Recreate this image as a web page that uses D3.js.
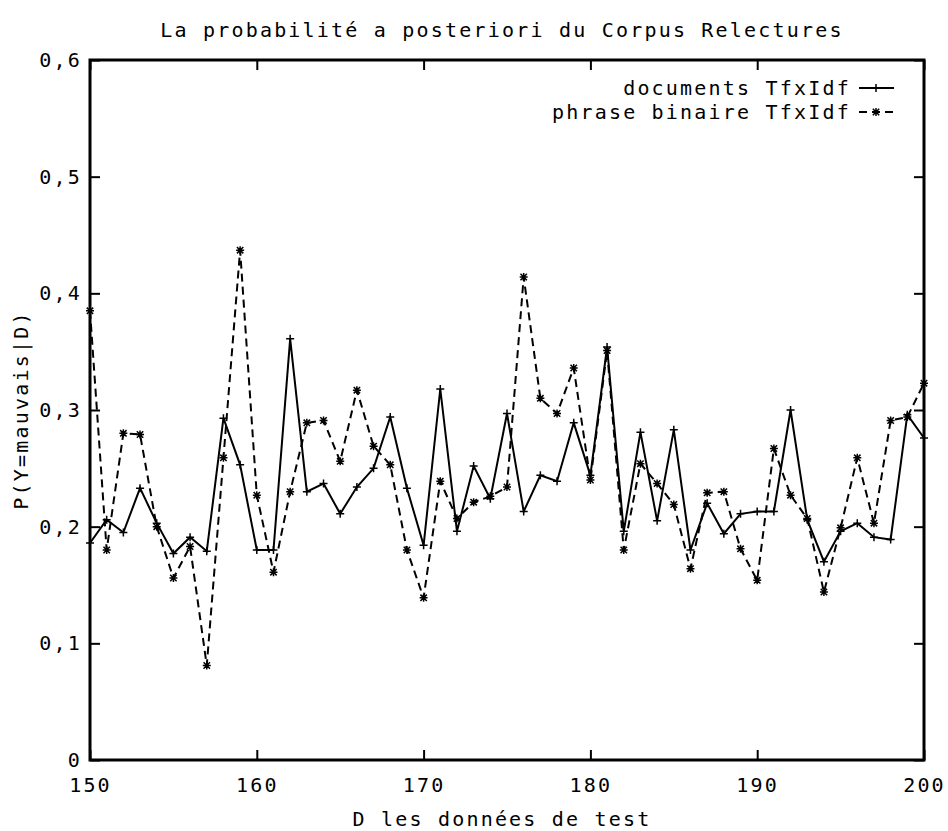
<!DOCTYPE html>
<html>
<head>
<meta charset="utf-8">
<script src="https://cdn.jsdelivr.net/npm/d3@7"></script>
<style>
  body { margin: 0; background: #fff; }
  text { font-family: "DejaVu Sans Mono", monospace; font-size: 20px; letter-spacing: 2.2px; fill: #000; }
</style>
</head>
<body>
<div id="chart"></div>
<script>
// data
const testIds = [150,151,152,153,154,155,156,157,158,159,160,161,162,163,164,165,166,167,168,169,170,
  171,172,173,174,175,176,177,178,179,180,181,182,183,184,185,186,187,188,189,190,
  191,192,193,194,195,196,197,198,199,200];

const documentsTfIdf = [0.186,0.206,0.195,0.233,0.203,0.177,0.191,0.179,0.293,0.253,0.180,
  0.180,0.361,0.230,0.237,0.211,0.234,0.250,0.294,0.233,0.184,
  0.318,0.196,0.252,0.224,0.297,0.213,0.244,0.239,0.289,0.244,
  0.354,0.196,0.281,0.205,0.283,0.180,0.220,0.194,0.211,0.213,
  0.213,0.300,0.206,0.170,0.196,0.203,0.191,0.189,0.296,0.276];

const phraseBinaireTfIdf = [0.385,0.180,0.280,0.279,0.200,0.156,0.183,0.081,0.259,0.437,0.227,
  0.161,0.230,0.289,0.291,0.256,0.317,0.269,0.253,0.180,0.139,
  0.239,0.207,0.221,0.226,0.234,0.414,0.310,0.297,0.336,0.240,
  0.351,0.180,0.254,0.237,0.219,0.164,0.229,0.230,0.181,0.154,
  0.267,0.227,0.207,0.144,0.199,0.259,0.203,0.291,0.294,0.323];

const xTicks = [150,160,170,180,190,200];
const yTicks = [0,0.1,0.2,0.3,0.4,0.5,0.6];
const yTickLabels = ["0","0,1","0,2","0,3","0,4","0,5","0,6"];
const seriesNames = ["documents TfxIdf","phrase binaire TfxIdf"];

const W = 948, H = 831;
const margin = {top: 60, right: 24, bottom: 71, left: 90};

const svg = d3.select("#chart").append("svg")
  .attr("width", W).attr("height", H);

const x = d3.scaleLinear().domain([150,200]).range([margin.left, W - margin.right]);
const y = d3.scaleLinear().domain([0,0.6]).range([H - margin.bottom, margin.top]);

// axes, ticks pointing inward on all four sides
const yLab = d => yTickLabels[yTicks.indexOf(d)];

svg.append("g").attr("class","axis")
  .attr("transform","translate(0," + y(0) + ")")
  .call(d3.axisBottom(x).tickValues(xTicks).tickSize(-10).tickPadding(18).tickFormat(d3.format("d")));
svg.append("g").attr("class","axis")
  .attr("transform","translate(0," + y(0.6) + ")")
  .call(d3.axisTop(x).tickValues(xTicks).tickSize(-10).tickFormat(""));
svg.append("g").attr("class","axis")
  .attr("transform","translate(" + x(150) + ",0)")
  .call(d3.axisLeft(y).tickValues(yTicks).tickSize(-10).tickPadding(8).tickFormat(yLab));
svg.append("g").attr("class","axis")
  .attr("transform","translate(" + x(200) + ",0)")
  .call(d3.axisRight(y).tickValues(yTicks).tickSize(-10).tickFormat(""));

svg.selectAll(".axis .domain").remove();
svg.selectAll(".axis line").attr("stroke","#000").attr("stroke-width",2);
svg.selectAll(".axis text")
  .style("font-family",'"DejaVu Sans Mono", monospace')
  .style("font-size","20px")
  .attr("fill","#000");

// frame
svg.append("rect")
  .attr("x", x(150)).attr("y", y(0.6))
  .attr("width", x(200) - x(150)).attr("height", y(0) - y(0.6))
  .attr("fill","none").attr("stroke","#000").attr("stroke-width",3);

// markers
function plusPath(cx, cy, r) {
  return "M" + (cx - r) + "," + cy + "H" + (cx + r) + "M" + cx + "," + (cy - r) + "V" + (cy + r);
}
function starPath(cx, cy, r) {
  const d = r * 0.8;
  return plusPath(cx, cy, r) +
    "M" + (cx - d) + "," + (cy - d) + "L" + (cx + d) + "," + (cy + d) +
    "M" + (cx - d) + "," + (cy + d) + "L" + (cx + d) + "," + (cy - d);
}

const line = d3.line().x(d => x(d[0])).y(d => y(d[1]));

const dataDoc = testIds.map((t, i) => [t, documentsTfIdf[i]]);
const dataPhr = testIds.map((t, i) => [t, phraseBinaireTfIdf[i]]);

const plot = svg.append("g");

plot.append("path").datum(dataPhr)
  .attr("d", line).attr("fill","none").attr("stroke","#000")
  .attr("stroke-width",2).attr("stroke-dasharray","8,5");
plot.append("path").datum(dataDoc)
  .attr("d", line).attr("fill","none").attr("stroke","#000")
  .attr("stroke-width",2);

plot.selectAll(".mk-doc").data(dataDoc).enter().append("path")
  .attr("class","mk-doc")
  .attr("d", d => plusPath(x(d[0]), y(d[1]), 4))
  .attr("stroke","#000").attr("stroke-width",1.5);
plot.selectAll(".mk-phr").data(dataPhr).enter().append("path")
  .attr("class","mk-phr")
  .attr("d", d => starPath(x(d[0]), y(d[1]), 4))
  .attr("stroke","#000").attr("stroke-width",1.5);

// legend
const legend = svg.append("g");
const legRows = [88, 112];
seriesNames.forEach((name, i) => {
  const ly = legRows[i];
  legend.append("text")
    .attr("x", 851).attr("y", ly).attr("dy","0.35em")
    .attr("text-anchor","end").text(name);
  legend.append("line")
    .attr("x1", 859).attr("x2", 894).attr("y1", ly).attr("y2", ly)
    .attr("stroke","#000").attr("stroke-width",2)
    .attr("stroke-dasharray", i === 0 ? null : "8,5");
  legend.append("path")
    .attr("d", i === 0 ? plusPath(876, ly, 4) : starPath(876, ly, 4))
    .attr("stroke","#000").attr("stroke-width",1.5);
});

// titles
svg.append("text")
  .attr("x", 502).attr("y", 30).attr("dy","0.35em")
  .attr("text-anchor","middle")
  .text("La probabilité a posteriori du Corpus Relectures");

svg.append("text")
  .attr("x", 502).attr("y", 819).attr("dy","0.35em")
  .attr("text-anchor","middle")
  .text("D les données de test");

svg.append("text")
  .attr("transform","translate(21," + ((y(0) + y(0.6)) / 2) + ") rotate(-90)")
  .attr("dy","0.35em")
  .attr("text-anchor","middle")
  .text("P(Y=mauvais|D)");
</script>
</body>
</html>
